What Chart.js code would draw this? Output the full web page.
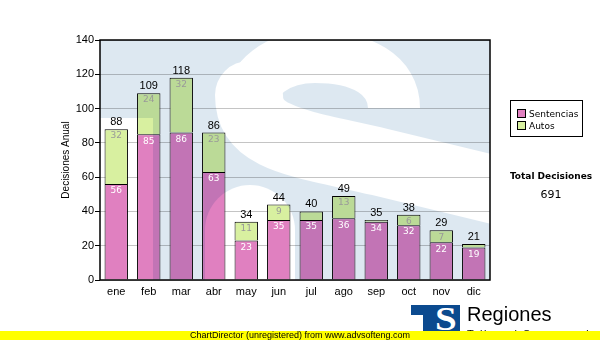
<!DOCTYPE html>
<html lang="es">
<head>
  <meta charset="UTF-8" />
  <title>Decisiones Anual</title>
  <script src="https://cdn.jsdelivr.net/npm/chart.js"></script>
  <style>
    body {
      margin: 0;
      background: #fff;
      font-family: 'Liberation Sans', Arial, sans-serif;
    }

    .wrap {
      position: relative;
      width: 600px;
      height: 340px;
      overflow: hidden;
    }

    #chart {
      position: absolute;
      left: 0;
      top: 0;
    }

    .legend {
      position: absolute;
      left: 510px;
      top: 100px;
      width: 71px;
      height: 35px;
      border: 1px solid #000;
      background: #fff;
      font: 9px 'DejaVu Sans', sans-serif;
      color: #000;
    }

    .legend div {
      position: absolute;
      left: 6px;
      height: 12px;
      line-height: 12px;
      white-space: nowrap;
    }

    .legend span {
      display: inline-block;
      width: 7px;
      height: 7px;
      border: 1px solid #000;
      margin-right: 3px;
      vertical-align: -1px;
    }

    .total {
      position: absolute;
      left: 500px;
      width: 102px;
      text-align: center;
      font-family: 'DejaVu Sans', sans-serif;
      color: #000;
    }

    .logo {
      position: absolute;
      left: 411px;
      top: 305px;
      width: 49px;
      height: 30px;
      overflow: hidden;
    }

    .logo .bar { position: absolute; background: #0b4a8f; }

    .logo .s {
      position: absolute;
      left: 22px;
      top: -3px;
      width: 26px;
      text-align: center;
      font: bold 34px 'Liberation Serif', serif;
      line-height: 34px;
      color: #fff;
      transform: scaleX(1.15);
    }

    .regiones {
      position: absolute;
      left: 467px;
      top: 303px;
      font-size: 20px;
      color: #000;
    }

    .tsj {
      position: absolute;
      left: 467px;
      top: 328px;
      font-size: 11px;
      letter-spacing: 1.5px;
      color: #000;
    }

    .footer {
      position: absolute;
      left: 0;
      top: 331px;
      width: 600px;
      height: 9px;
      background: #ffff00;
      font-size: 9px;
      line-height: 9px;
      text-align: center;
      color: #000;
    }
  </style>
</head>
<body>

<div class="wrap">
  <canvas id="chart" width="600" height="340"></canvas>

  <div class="legend" id="legend"></div>

  <div class="total" style="top: 171px; font-size: 9px; font-weight: bold;">Total Decisiones</div>
  <div class="total" id="total" style="top: 188px; font-size: 11px;"></div>

  <div class="logo">
    <div class="bar" style="left: 0; top: 0; width: 49px; height: 10px;"></div>
    <div class="bar" style="left: 12px; top: 0; width: 37px; height: 30px;"></div>
    <div class="s">S</div>
  </div>
  <div class="regiones">Regiones</div>
  <div class="tsj">Tribunal Supremo de Justicia</div>

  <div class="footer">ChartDirector (unregistered) from www.advsofteng.com</div>
</div>

<script>
  // monthly decisions
  const months = ['ene', 'feb', 'mar', 'abr', 'may', 'jun', 'jul', 'ago', 'sep', 'oct', 'nov', 'dic'];
  const sentencias = [56, 85, 86, 63, 23, 35, 35, 36, 34, 32, 22, 19];
  const autos = [32, 24, 32, 23, 11, 9, 5, 13, 1, 6, 7, 2];
  const yTicks = [0, 20, 40, 60, 80, 100, 120, 140];

  const seriesNames = ['Sentencias', 'Autos'];
  const seriesColors = ['#e080c0', '#d8f0a0'];

  const totals = months.map((m, i) => sentencias[i] + autos[i]);
  const grandTotal = totals.reduce((a, b) => a + b, 0);

  // legend + total box
  document.getElementById('legend').innerHTML = seriesNames.map((name, i) =>
    `<div style="top:${7 + i * 12}px"><span style="background:${seriesColors[i]}"></span>${name}</div>`
  ).join('');
  document.getElementById('total').textContent = grandTotal;

  // light blue tint with a big white "S" left open, multiplied over the plot
  const watermark = {
    id: 'watermark',
    afterDatasetsDraw(chart) {
      const a = chart.chartArea;
      const off = document.createElement('canvas');
      off.width = chart.width;
      off.height = chart.height;
      const o = off.getContext('2d');
      o.fillStyle = '#dde8f1';
      o.fillRect(a.left, a.top, a.right - a.left, a.bottom - a.top);
      o.globalCompositeOperation = 'destination-out';

      // lower-left terminal
      o.fillRect(a.left, a.top + 78, 53, a.bottom - a.top);

      o.save();
      o.translate(a.left, a.top);

      // top arc, ending in the upper terminal
      o.lineWidth = 52;
      o.lineCap = 'butt';
      o.beginPath();
      o.moveTo(294, 68);
      o.bezierCurveTo(294, 35, 262, 17, 215, 17);
      o.bezierCurveTo(175, 17, 152, 40, 150, 62);
      o.stroke();

      // left side and spine
      o.lineWidth = 68;
      o.lineCap = 'round';
      o.beginPath();
      o.moveTo(149, 55);
      o.bezierCurveTo(149, 100, 200, 103, 280, 122);
      o.lineTo(420, 156);
      o.bezierCurveTo(480, 172, 500, 230, 470, 300);
      o.stroke();

      // part of the lower bowl
      o.lineWidth = 90;
      o.beginPath();
      o.moveTo(150, 190);
      o.lineTo(150, 280);
      o.stroke();
      o.restore();

      const ctx = chart.ctx;
      ctx.save();
      ctx.globalCompositeOperation = 'multiply';
      ctx.drawImage(off, 0, 0);
      ctx.restore();
    }
  };

  // values inside segments, totals on top, plot frame
  const barLabels = {
    id: 'barLabels',
    afterDatasetsDraw(chart) {
      const ctx = chart.ctx;
      ctx.save();
      ctx.textAlign = 'center';
      ctx.textBaseline = 'middle';
      ctx.font = '9px "DejaVu Sans"';
      chart.data.datasets.forEach((ds, i) => {
        chart.getDatasetMeta(i).data.forEach((bar, j) => {
          if (bar.base - bar.y < 10) return;
          ctx.fillStyle = i === 0 ? '#fff' : '#999';
          ctx.fillText(ds.data[j], bar.x, bar.y + 7);
        });
      });

      ctx.font = '11px "Liberation Sans"';
      ctx.fillStyle = '#000';
      chart.getDatasetMeta(1).data.forEach((bar, j) => {
        ctx.fillText(totals[j], bar.x, bar.y - 7);
      });

      const a = chart.chartArea;
      ctx.strokeStyle = '#000';
      ctx.lineWidth = 1.5;
      ctx.strokeRect(a.left, a.top, a.right - a.left, a.bottom - a.top);
      ctx.restore();
    }
  };

  new Chart(document.getElementById('chart'), {
    type: 'bar',
    data: {
      labels: months,
      datasets: [
        { label: seriesNames[0], data: sentencias, backgroundColor: seriesColors[0] },
        { label: seriesNames[1], data: autos, backgroundColor: seriesColors[1] }
      ]
    },
    options: {
      responsive: false,
      animation: false,
      events: [],
      layout: { padding: { left: 56, right: 110, top: 40, bottom: 30 } },
      datasets: {
        bar: {
          borderColor: '#000',
          borderWidth: 1,
          categoryPercentage: 1,
          barPercentage: 0.72
        }
      },
      plugins: {
        legend: { display: false },
        tooltip: { enabled: false }
      },
      scales: {
        x: {
          stacked: true,
          grid: { display: false, drawTicks: false },
          border: { display: false },
          ticks: { color: '#000', padding: 5, font: { family: 'Liberation Sans', size: 11 } },
          afterFit(scale) { scale.height = 30; }
        },
        y: {
          stacked: true,
          min: 0,
          max: 140,
          afterBuildTicks(scale) { scale.ticks = yTicks.map(v => ({ value: v })); },
          grid: { color: '#c4c4c4', tickColor: '#000', tickLength: 5 },
          border: { display: false },
          ticks: { color: '#000', padding: 1, font: { family: 'Liberation Sans', size: 11 } },
          title: {
            display: true,
            text: 'Decisiones Anual',
            color: '#000',
            padding: { top: 4, bottom: 0 },
            font: { family: 'Liberation Sans', size: 10 }
          },
          afterFit(scale) { scale.width = 44; }
        }
      }
    },
    plugins: [watermark, barLabels]
  });
</script>

</body>
</html>
